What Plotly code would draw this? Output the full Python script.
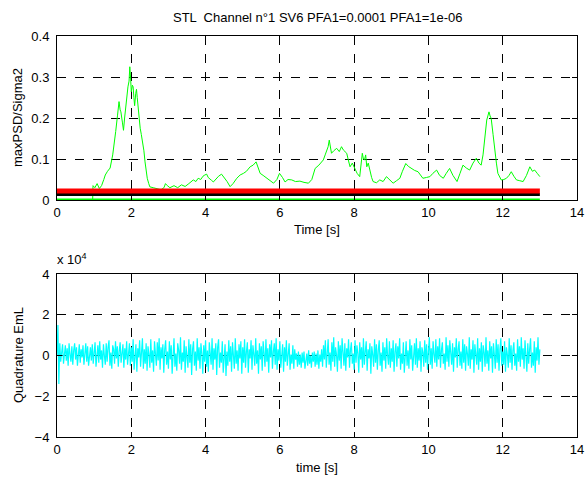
import plotly.graph_objects as go

# ---- top panel: maxPSD/Sigma2 vs time ----
t_psd = [0.96, 0.97, 1.02, 1.08, 1.14, 1.20, 1.26, 1.30, 1.36, 1.43, 1.50, 1.55, 1.58, 1.63, 1.67, 1.70,
         1.72, 1.76, 1.79, 1.82, 1.85, 1.88, 1.91, 1.94, 1.96, 1.98, 2.00, 2.03, 2.05, 2.07, 2.09, 2.12,
         2.14, 2.16, 2.18, 2.21, 2.24, 2.27, 2.31, 2.34, 2.37, 2.40, 2.43, 2.47, 2.50, 2.59, 2.70, 2.80,
         2.88, 2.92, 2.97, 3.04, 3.15, 3.25, 3.35, 3.45, 3.55, 3.62, 3.67, 3.74, 3.80, 3.87, 3.93, 3.98,
         4.03, 4.07, 4.12, 4.16, 4.21, 4.28, 4.35, 4.43, 4.50, 4.58, 4.66, 4.74, 4.84, 4.93, 5.02, 5.10,
         5.20, 5.28, 5.36, 5.42, 5.47, 5.55, 5.65, 5.74, 5.83, 5.92, 5.99, 6.07, 6.14, 6.22, 6.32, 6.42,
         6.54, 6.65, 6.77, 6.86, 6.95, 7.05, 7.17, 7.22, 7.26, 7.30, 7.33, 7.36, 7.39, 7.45, 7.53, 7.60,
         7.66, 7.71, 7.76, 7.80, 7.85, 7.89, 7.95, 8.02, 8.08, 8.15, 8.18, 8.22, 8.25, 8.28, 8.31, 8.34,
         8.38, 8.42, 8.47, 8.51, 8.60, 8.69, 8.78, 8.87, 8.96, 9.05, 9.14, 9.23, 9.30, 9.39, 9.46, 9.54,
         9.63, 9.72, 9.78, 9.85, 9.95, 10.04, 10.12, 10.22, 10.30, 10.40, 10.48, 10.57, 10.66, 10.77, 10.85, 10.93,
         11.02, 11.11, 11.20, 11.29, 11.36, 11.42, 11.47, 11.51, 11.54, 11.57, 11.60, 11.63, 11.66, 11.69, 11.74, 11.78,
         11.83, 11.87, 11.96, 12.03, 12.10, 12.17, 12.23, 12.30, 12.37, 12.46, 12.55, 12.64, 12.73, 12.80, 12.86, 12.93,
         13.00]
v_psd = [0.0, 0.035, 0.03, 0.04, 0.028, 0.035, 0.05, 0.061, 0.07, 0.078, 0.11, 0.14, 0.167, 0.207, 0.24, 0.22,
         0.215, 0.19, 0.17, 0.20, 0.23, 0.25, 0.276, 0.29, 0.325, 0.30, 0.264, 0.28, 0.276, 0.25, 0.23, 0.26,
         0.27, 0.25, 0.225, 0.20, 0.175, 0.16, 0.142, 0.12, 0.093, 0.07, 0.053, 0.04, 0.032, 0.03, 0.028, 0.025,
         0.03, 0.04, 0.035, 0.03, 0.035, 0.03, 0.037, 0.033, 0.04, 0.045, 0.049, 0.045, 0.053, 0.05, 0.058, 0.061,
         0.063, 0.055, 0.05, 0.048, 0.044, 0.052, 0.058, 0.063, 0.055, 0.045, 0.0325, 0.04, 0.053, 0.061, 0.065, 0.07,
         0.081, 0.085, 0.093, 0.08, 0.065, 0.06, 0.053, 0.048, 0.041, 0.05, 0.065, 0.055, 0.044, 0.05, 0.049, 0.045,
         0.046, 0.043, 0.041, 0.05, 0.077, 0.085, 0.0976, 0.11, 0.122, 0.13, 0.146, 0.125, 0.114, 0.12, 0.126, 0.118,
         0.13, 0.122, 0.118, 0.114, 0.095, 0.081, 0.09, 0.077, 0.065, 0.057, 0.09, 0.114, 0.10, 0.098, 0.11, 0.081,
         0.09, 0.073, 0.055, 0.045, 0.042, 0.049, 0.045, 0.057, 0.05, 0.041, 0.047, 0.053, 0.07, 0.089, 0.082, 0.077,
         0.072, 0.069, 0.06, 0.053, 0.055, 0.057, 0.065, 0.073, 0.06, 0.053, 0.065, 0.077, 0.06, 0.045, 0.065, 0.085,
         0.078, 0.073, 0.09, 0.102, 0.09, 0.085, 0.11, 0.146, 0.17, 0.195, 0.205, 0.215, 0.205, 0.199, 0.16, 0.122,
         0.09, 0.065, 0.049, 0.05, 0.053, 0.06, 0.069, 0.058, 0.049, 0.047, 0.045, 0.06, 0.081, 0.07, 0.073, 0.065,
         0.057]

# thresholds (start / end time, level)
thr_t = [0.0, 13.0]
thr_pfa1 = [0.022, 0.022]     # red
thr_pfa2 = [0.0135, 0.0135]   # black
thr_zero = [0.0, 0.0]         # green base

# ---- bottom panel: Quadrature EmL (units of 1e4), sampled over 0..13 s ----
q_t_end = 13.0
q_vals = [
    0.00, 1.50, -1.40, 0.60, -0.30, 0.20, 0.55, -0.40, 0.10, 0.50, -0.25, 0.35, -0.50, 0.60, 0.05, -0.30, 0.45, -0.45, 0.25, 0.60,
    -0.20, 0.40, -0.50, 0.15, 0.55, -0.35, 0.30, -0.10, 0.50, -0.45, 0.20, 0.60, -0.30, 0.45, -0.50, 0.05, 0.40, -0.25, 0.55, -0.40,
    0.30, 0.65, -0.55, 0.10, 0.50, -0.35, 0.70, -0.20, 0.25, -0.60, 0.55, 0.00, -0.45, 0.60, -0.30, 0.40, 0.75, -0.50, 0.15, -0.65,
    0.50, 0.30, -0.40, 0.70, -0.15, 0.45, -0.55, 0.20, 0.65, -0.35, 0.05, 0.55, -0.60, 0.35, -0.20, 0.70, -0.45, 0.25, 0.60, -0.50,
    0.40, -0.30, 0.80, -0.70, 0.20, 0.55, -0.80, 0.35, -0.10, 0.75, -0.55, 0.15, 0.85, -0.65, 0.30, -0.40, 0.60, -0.75, 0.45, 0.05,
    -0.60, 0.80, -0.35, 0.25, -0.80, 0.70, 0.10, -0.50, 0.65, -0.25, 0.85, -0.70, 0.40, -0.15, 0.55, -0.85, 0.30, 0.75, -0.45, 0.20,
    -0.65, 0.70, -0.20, 0.50, -0.90, 0.35, 0.85, -0.55, 0.10, -0.75, 0.60, 0.25, -0.40, 0.90, -0.70, 0.15, -0.30, 0.75, -0.85, 0.45,
    0.00, -0.60, 0.80, -0.35, 0.55, -0.95, 0.30, 0.70, -0.50, 0.20, -0.75, 0.85, -0.25, 0.40, -0.65, 0.60, 0.10, -0.90, 0.50, -0.30,
    0.75, -0.55, 0.25, -0.80, 0.65, 0.05, -0.45, 0.85, -0.70, 0.35, -0.20, 0.60, -0.95, 0.40, 0.80, -0.60, 0.15, -0.35, 0.70, -0.85,
    0.30, 0.55, -1.00, 0.20, -0.50, 0.75, -0.30, 0.45, -0.80, 0.65, 0.00, -0.65, 0.85, -0.40, 0.25, -0.75, 0.55, -0.15, 0.70, -0.90,
    0.40, -0.35, 0.80, -0.60, 0.20, 0.65, -0.85, 0.30, -0.15, 0.75, -0.70, 0.50, 0.05, -0.50, 0.85, -0.40, 0.25, -0.90, 0.60, -0.20,
    0.45, -0.75, 0.70, 0.10, -0.55, 0.80, -0.30, 0.35, -0.85, 0.55, -0.10, 0.75, -0.65, 0.20, 0.60, -0.45, 0.85, -0.70, 0.30, -0.25,
    0.70, -0.60, 0.15, 0.55, -0.80, 0.40, -0.30, 0.75, -0.50, 0.25, 0.60, -0.70, 0.05, -0.40, 0.50, -0.65, 0.30, -0.20, 0.10, -0.55,
    0.20, -0.45, 0.05, -0.60, 0.15, -0.35, 0.20, -0.65, -0.10, 0.10, -0.50, 0.25, -0.40, 0.00, -0.60, 0.15, -0.30, 0.20, -0.55, 0.10,
    -0.45, 0.25, -0.65, 0.05, -0.30, 0.30, -0.55, 0.50, -0.20, 0.75, -0.60, 0.35, 0.80, -0.45, 0.15, -0.75, 0.65, -0.30, 0.90, -0.55,
    0.40, 0.05, -0.80, 0.70, -0.25, 0.50, -0.65, 0.85, 0.20, -0.50, 0.60, -0.75, 0.35, -0.10, 0.80, -0.60, 0.25, 0.65, -0.40, 0.10,
    -0.70, 0.75, -0.35, 0.50, 0.10, -0.85, 0.65, -0.20, 0.40, -0.60, 0.85, -0.45, 0.20, 0.70, -0.75, 0.30, -0.15, 0.60, -0.90, 0.45,
    0.05, -0.55, 0.80, -0.35, 0.55, -0.70, 0.25, 0.75, -0.50, 0.15, -0.80, 0.65, -0.25, 0.40, -0.65, 0.85, 0.00, -0.45, 0.70, -0.60,
    0.35, -0.30, 0.75, -0.80, 0.20, 0.60, -0.55, 0.45, -0.15, 0.85, -0.70, 0.10, -0.40, 0.65, -0.85, 0.30, 0.70, -0.50, 0.25, -0.65,
    0.80, -0.20, 0.50, -0.75, 0.05, 0.60, -0.45, 0.85, -0.60, 0.35, -0.25, 0.70, -0.80, 0.40, 0.15, -0.55, 0.75, -0.35, 0.55, -0.70,
    0.20, 0.90, -0.45, 0.35, -0.65, 0.70, 0.05, -0.35, 0.80, -0.55, 0.45, -0.20, 0.85, -0.60, 0.25, 0.65, -0.40, 0.10, -0.70, 0.90,
    -0.30, 0.50, -0.55, 0.75, 0.15, -0.45, 0.60, -0.80, 0.40, -0.10, 0.85, -0.60, 0.30, 0.70, -0.50, 0.20, -0.65, 0.80, -0.35, 0.55,
    -0.75, 0.45, 0.10, -0.50, 0.90, -0.65, 0.30, -0.20, 0.75, -0.85, 0.55, 0.00, -0.45, 0.85, -0.70, 0.35, -0.30, 0.65, -0.80, 0.50,
    0.15, -0.55, 0.90, -0.40, 0.25, -0.75, 0.70, -0.15, 0.45, -0.85, 0.60, 0.05, -0.65, 0.80, -0.35, 0.55, -0.75, 0.30, 0.85, -0.50,
    0.20, -0.45, 0.70, -0.80, 0.40, 0.05, -0.60, 0.85, -0.35, 0.50, -0.70, 0.25, 0.65, -0.50, 0.10, -0.75, 0.80, -0.30, 0.45, -0.55,
    0.90, -0.20, 0.35, -0.65, 0.75, 0.00, -0.80, 0.60, -0.40, 0.30, 0.85, -0.60, 0.15, -0.50, 0.70, -0.85, 0.40, -0.25, 0.90, -0.45,
    0.30,
]
q_step = q_t_end / (len(q_vals) - 1)
t_q = [i * q_step for i in range(len(q_vals))]

x_ticks = [0, 2, 4, 6, 8, 10, 12, 14]
y1_ticks = [0, 0.1, 0.2, 0.3, 0.4]
y1_labels = ["0", "0.1", "0.2", "0.3", "0.4"]
y2_ticks = [-4, -2, 0, 2, 4]

title_text = "STL  Channel n°1 SV6 PFA1=0.0001 PFA1=1e-06"

FONT = "Liberation Sans, Arial, Helvetica, sans-serif"
W, H = 586, 483
x_dom = [57 / W, 577 / W]
y1_dom = [1 - 200 / H, 1 - 36 / H]
y2_dom = [1 - 437 / H, 1 - 274 / H]

fig = go.Figure()
fig.add_trace(go.Scatter(x=thr_t, y=thr_zero, mode="lines", line=dict(color="#00ff00", width=3),
                         xaxis="x", yaxis="y", showlegend=False))
fig.add_trace(go.Scatter(x=t_psd, y=v_psd, mode="lines", line=dict(color="#00ff00", width=1),
                         xaxis="x", yaxis="y", showlegend=False))
fig.add_trace(go.Scatter(x=thr_t, y=thr_pfa2, mode="lines", line=dict(color="#000000", width=3),
                         xaxis="x", yaxis="y", showlegend=False))
fig.add_trace(go.Scatter(x=thr_t, y=thr_pfa1, mode="lines", line=dict(color="#ff0000", width=5),
                         xaxis="x", yaxis="y", showlegend=False))
fig.add_trace(go.Scatter(x=t_q, y=q_vals, mode="lines", line=dict(color="#00ffff", width=1.2),
                         xaxis="x2", yaxis="y2", showlegend=False))

axis_common = dict(showline=True, linecolor="black", linewidth=1, mirror="ticks",
                   ticks="inside", ticklen=5, tickcolor="black",
                   showgrid=True, gridcolor="black", gridwidth=1, griddash="dash",
                   zeroline=False, automargin=False,
                   tickfont=dict(family=FONT, size=13, color="black"))

fig.update_layout(
    width=W, height=H,
    margin=dict(l=0, r=0, t=0, b=0, autoexpand=False),
    paper_bgcolor="white", plot_bgcolor="white",
    template="none",
    font=dict(family=FONT, size=13, color="black"),
    xaxis=dict(domain=x_dom, range=[0, 14], tickvals=x_ticks, anchor="y", **axis_common),
    yaxis=dict(domain=y1_dom, range=[0, 0.4], tickvals=y1_ticks, ticktext=y1_labels, anchor="x",
               ticklabelstandoff=4, **axis_common),
    xaxis2=dict(domain=x_dom, range=[0, 14], tickvals=x_ticks, anchor="y2", **axis_common),
    yaxis2=dict(domain=y2_dom, range=[-4, 4], tickvals=y2_ticks, anchor="x2",
                ticklabelstandoff=4, **axis_common),
    annotations=[
        dict(text=title_text, x=317 / W, y=1 - 17 / H, xref="paper", yref="paper",
             showarrow=False, xanchor="center", yanchor="middle", font=dict(size=13)),
        dict(text="Time [s]", x=317 / W, y=1 - 229 / H, xref="paper", yref="paper",
             showarrow=False, xanchor="center", yanchor="middle", font=dict(size=13)),
        dict(text="time [s]", x=317 / W, y=1 - 467 / H, xref="paper", yref="paper",
             showarrow=False, xanchor="center", yanchor="middle", font=dict(size=13)),
        dict(text="maxPSD/Sigma2", x=18 / W, y=1 - 118 / H, xref="paper", yref="paper", textangle=-90,
             showarrow=False, xanchor="center", yanchor="middle", font=dict(size=13)),
        dict(text="Quadrature EmL", x=18 / W, y=1 - 355 / H, xref="paper", yref="paper", textangle=-90,
             showarrow=False, xanchor="center", yanchor="middle", font=dict(size=13)),
        dict(text="x 10<sup>4</sup>", x=55 / W, y=1 - 259 / H, xref="paper", yref="paper",
             showarrow=False, xanchor="left", yanchor="middle", font=dict(size=13)),
    ],
)

fig.write_html("out.html", config={"displayModeBar": False},
               post_script="document.body.style.margin='0px';")
